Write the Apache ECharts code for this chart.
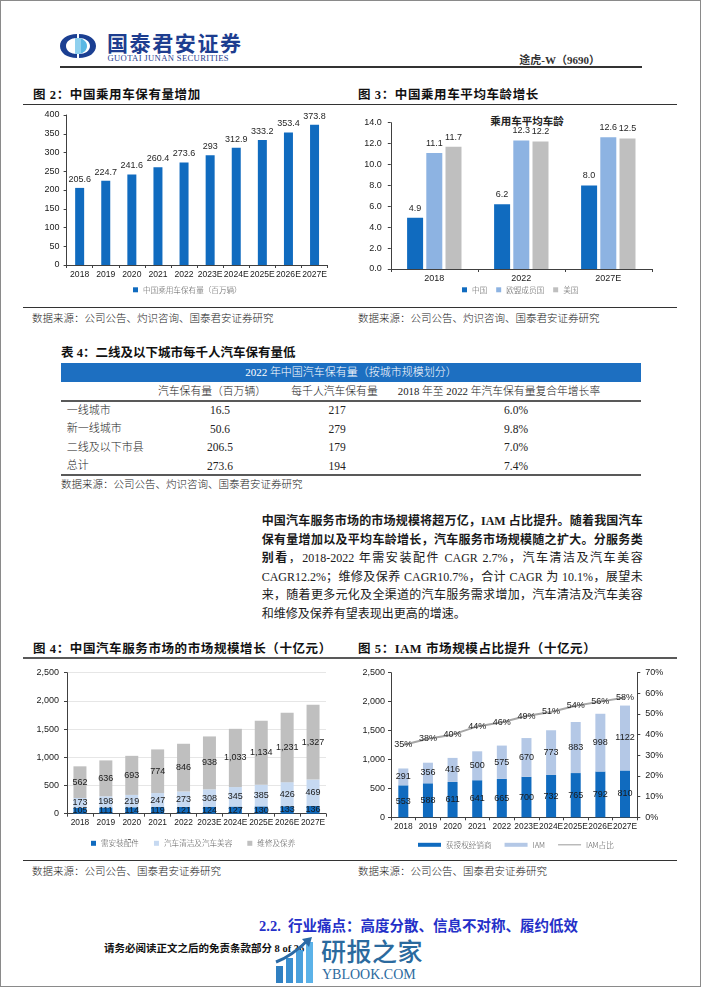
<!DOCTYPE html>
<html><head><meta charset="utf-8">
<script src="https://cdn.jsdelivr.net/npm/echarts@6/dist/echarts.min.js"></script>
<style>
body{margin:0;background:#fff;}
#page{position:relative;width:702px;height:991px;overflow:hidden;background:#fff;font-family:'Liberation Serif','Noto Sans CJK SC',serif;color:#1a1a1a;}
.t{position:absolute;white-space:nowrap;}
.ln{position:absolute;}
#chart{position:absolute;left:0;top:0;width:702px;height:991px;z-index:2;}
.pl{position:absolute;left:261.7px;width:381px;height:18px;line-height:18px;font-size:12px;text-align:justify;text-align-last:justify;font-family:'Liberation Serif','Noto Sans CJK SC',serif;}
</style></head>
<body>
<div id="page">
  <div id="html"></div>
  <div id="chart"></div>
</div>
<script>
// ---------- data ----------
const fig2Years = ['2018','2019','2020','2021','2022','2023E','2024E','2025E','2026E','2027E'];
const fig2Stock = [205.6,224.7,241.6,260.4,273.6,293,312.9,333.2,353.4,373.8];
const fig3Years = ['2018','2022','2027E'];
const fig3China = [4.9,6.2,8.0];
const fig3EU = [11.1,12.3,12.6];
const fig3US = [11.7,12.2,12.5];
const fig4Years = ['2018','2019','2020','2021','2022','2023E','2024E','2025E','2026E','2027E'];
const fig4Parts = [105,111,114,119,121,124,127,130,133,136];
const fig4Clean = [173,198,219,247,273,308,345,385,426,469];
const fig4Repair = [562,636,693,774,846,938,1033,1134,1231,1327];
const fig5Years = ['2018','2019','2020','2021','2022','2023E','2024E','2025E','2026E','2027E'];
const fig5Dealer = [553,588,611,641,665,700,732,765,792,810];
const fig5IAM = [291,356,416,500,575,670,773,883,998,1122];
const fig5Share = [35,38,40,44,46,49,51,54,56,58];
const tableRows = ['一线城市','新一线城市','二线及以下市县','总计'];
const tableStock = ['16.5','50.6','206.5','273.6'];
const tablePerK = ['217','279','179','194'];
const tableCagr = ['6.0%','9.8%','7.0%','7.4%'];
const tableHead = ['汽车保有量（百万辆）','每千人汽车保有量','2018 年至 2022 年汽车保有量复合年增长率'];

// ---------- static page (html text) ----------
const H = [];
function txt(s, x, cy, st, align){
  const fs = (st.match(/font-size:([\d.]+)px/)||[0,12])[1];
  const h = Math.round(fs*1.4);
  let pos = 'left:'+x+'px;';
  if(align==='center') pos = 'left:'+(x-200)+'px;width:400px;text-align:center;';
  if(align==='right') pos = 'left:'+(x-400)+'px;width:400px;text-align:right;';
  H.push('<div class="t" style="'+pos+'top:'+(cy-h/2)+'px;height:'+h+'px;line-height:'+h+'px;'+st+'">'+s+'</div>');
}
function line(x,y,w,h,c){ H.push('<div class="ln" style="left:'+x+'px;top:'+y+'px;width:'+w+'px;height:'+h+'px;background:'+c+'"></div>'); }

// page frame
H.push('<div class="ln" style="left:0;top:0;width:699px;height:985px;border:1.5px solid #8a8a8a;"></div>');
// logo
H.push('<svg style="position:absolute;left:60px;top:34px" width="36" height="24" viewBox="0 0 36 24">'+
 '<path d="M17 0 C7 0 0 5 0 12 C0 19 7 24 17 24 L17 20 C11 20 6 17 6 12 C6 7 11 4 17 4 Z" fill="#1b3f92"/>'+
 '<path d="M19 0 C29 0 36 5 36 12 C36 19 29 24 19 24 L19 20 C25 20 30 17 30 12 C30 7 25 4 19 4 Z" fill="#1b3f92"/>'+
 '<path d="M17 4 C12 5 9 8 9 12 C9 16 12 19 17 20 Z" fill="#ffffff"/>'+
 '<path d="M19 4 C24 5 27 8 27 12 C27 16 24 19 19 20 Z" fill="#5ab7e3"/>'+
 '<rect x="15" y="4" width="6" height="16" fill="#8fd0ee"/></svg>');
txt('国泰君安证券',107,44,'font-size:21px;font-weight:700;letter-spacing:1.6px;color:#1d3d8f;font-family:"Noto Sans CJK SC",sans-serif;');
txt('GUOTAI JUNAN SECURITIES',107.5,58,'font-size:8.6px;color:#1d3d8f;letter-spacing:0.35px;font-family:"Liberation Sans",sans-serif;');
txt('途虎-W（9690）',600,60,'font-size:11px;font-weight:700;color:#333;','right');
line(60,66,582,1.5,'#333');

// fig 2/3 titles
const titleSt = 'font-size:12.5px;font-weight:700;color:#111;letter-spacing:0.6px;';
txt('图 2：中国乘用车保有量增加',33,95,titleSt);
txt('图 3：中国乘用车平均车龄增长',358,95,titleSt);
line(23,103.5,654,1.2,'#333');
txt('乘用车平均车龄',527,121,'font-size:10.5px;font-weight:700;color:#222;font-family:"Noto Sans CJK SC",sans-serif;','center');
line(23,307,654,1.2,'#333');
const srcSt = 'font-size:10.5px;color:#222;font-weight:300;';
txt('数据来源：公司公告、灼识咨询、国泰君安证券研究',32,318,srcSt);
txt('数据来源：公司公告、灼识咨询、国泰君安证券研究',358,318,srcSt);

// table
txt('表 4：二线及以下城市每千人汽车保有量低',61,353,'font-size:12.5px;font-weight:700;color:#111;');
line(61,363,580,19,'#1d6fc1');
txt('2022 年中国汽车保有量（按城市规模划分）',351,372.5,'font-size:11px;color:#fff;font-weight:300;','center');
const colX = [220,337,516];
const headX = [212,334.5,499];
tableHead.forEach((h,i)=>txt(h,headX[i],391,'font-size:10.8px;color:#222;font-weight:300;','center'));
line(61,399.7,580,2,'#595959');
const rowY = [410,428.5,447,465.5];
tableRows.forEach((r,i)=>{
  txt(r,66.7,rowY[i],'font-size:11px;color:#222;font-weight:300;');
  txt(tableStock[i],colX[0],rowY[i],'font-size:11.5px;color:#222;','center');
  txt(tablePerK[i],colX[1],rowY[i],'font-size:11.5px;color:#222;','center');
  txt(tableCagr[i],colX[2],rowY[i],'font-size:11.5px;color:#222;','center');
});
line(61,473.5,580,2,'#595959');
txt('数据来源：公司公告、灼识咨询、国泰君安证券研究',61,484,srcSt);

// paragraph
const pY = [521,539.5,558,576.5,595,613.5];
const pLines = [
 '<b>中国汽车服务市场的市场规模将超万亿，IAM 占比提升。随着我国汽车</b>',
 '<b>保有量增加以及平均车龄增长，汽车服务市场规模随之扩大。分服务类</b>',
 '<b>别看</b>，2018-2022 年需安装配件 CAGR 2.7%，汽车清洁及汽车美容',
 'CAGR12.2%；维修及保养 CAGR10.7%，合计 CAGR 为 10.1%，展望未',
 '来，随着更多元化及全渠道的汽车服务需求增加，汽车清洁及汽车美容',
 '和维修及保养有望表现出更高的增速。'
];
pLines.forEach((s,i)=>{
  const last = i===pLines.length-1 ? 'text-align-last:left;' : '';
  H.push('<div class="pl" style="top:'+(pY[i]-9)+'px;'+last+'">'+s+'</div>');
});

// fig 4/5 titles
txt('图 4：中国汽车服务市场的市场规模增长（十亿元）',33,649,titleSt);
txt('图 5：IAM 市场规模占比提升（十亿元）',358,649,titleSt);
line(23,656.7,654,2,'#595959');
line(23,859.5,654,1.2,'#333');
txt('数据来源：公司公告、国泰君安证券研究',32,871,srcSt);
txt('数据来源：公司公告、国泰君安证券研究',358,871,srcSt);

// section heading & footer
txt('2.2.&nbsp; 行业痛点：高度分散、信息不对称、履约低效',259,926,'font-size:14.5px;font-weight:700;color:#2430c8;');
txt('请务必阅读正文之后的免责条款部分 8 of 36',104,948,'font-size:10.5px;font-weight:700;color:#111;');
// watermark
H.push('<div style="position:absolute;left:274px;top:936px;width:42px;height:48px;z-index:3;">'+
 '<div style="position:absolute;left:2px;top:30px;width:7px;height:17px;background:#2f7fc1"></div>'+
 '<div style="position:absolute;left:12px;top:22px;width:7px;height:25px;background:#3a8fd0"></div>'+
 '<div style="position:absolute;left:22px;top:14px;width:7px;height:33px;background:#4aa0dc"></div>'+
 '<div style="position:absolute;left:32px;top:6px;width:7px;height:41px;background:#5bb2e8"></div>'+
 '<svg style="position:absolute;left:0;top:0" width="42" height="30"><path d="M2 26 Q18 20 34 4" stroke="#2a6aa6" stroke-width="3" fill="none"/><path d="M28 3 L38 1 L35 11 Z" fill="#2a6aa6"/></svg></div>');
txt('研报之家',321,952,'font-size:25px;font-weight:500;color:#2b6a9e;letter-spacing:0.5px;font-family:"Noto Sans CJK SC",sans-serif;z-index:3;background:rgba(255,255,255,0);');
txt('YBLOOK.COM',322,975,'font-size:14px;color:#2b6a9e;font-family:"Liberation Sans",sans-serif;letter-spacing:0.2px;z-index:3;');

document.getElementById('html').innerHTML = H.join('');

// ---------- charts ----------
const FF = "'Liberation Sans','Noto Sans CJK SC',sans-serif";
const AX = '#404040';
const dark = '#106bbf', light4 = '#c6d9f1', gray = '#bfbfbf', eu = '#8db3e2', light5 = '#b4c8e6';
function catAxis(gi, data, fs, margin){
  return {type:'category', gridIndex:gi, data:data,
    axisLine:{lineStyle:{color:AX,width:1}},
    axisTick:{show:true,length:3,lineStyle:{color:AX}},
    axisLabel:{interval:0,fontSize:fs,color:'#1a1a1a',margin:margin,fontFamily:FF},
    splitLine:{show:false}};
}
function valAxis(gi, min, max, interval, margin, fmt, extra){
  return Object.assign({type:'value', gridIndex:gi, min:min, max:max, interval:interval,
    axisLine:{show:true,lineStyle:{color:AX,width:1}},
    axisTick:{show:true,length:3,lineStyle:{color:AX}},
    axisLabel:{fontSize:9,color:'#1a1a1a',margin:margin,formatter:fmt,fontFamily:FF},
    splitLine:{show:false}}, extra||{});
}
const comma = v => Number(v).toLocaleString('en-US');
const legendText = {fontSize:7.6,color:'#595959',fontFamily:"'Noto Sans CJK SC',sans-serif",fontWeight:300};

const option = {
  animation:false,
  textStyle:{fontFamily:FF},
  grid:[
    {left:66.6, top:115, width:261, height:150},
    {left:390.8, top:122.7, width:261, height:146.3},
    {left:67, top:672.7, width:259, height:141},
    {left:391, top:672.7, width:246.3, height:144.6}
  ],
  xAxis:[
    catAxis(0, fig2Years, 8.6, 5),
    catAxis(1, fig3Years, 9, 5.5),
    catAxis(2, fig4Years, 8.4, 5),
    catAxis(3, fig5Years, 8.4, 5)
  ],
  yAxis:[
    valAxis(0,0,400,50,7),
    valAxis(1,0,14,2,9, v=>v.toFixed(1)),
    valAxis(2,0,2500,500,8, comma, {splitLine:{show:true,lineStyle:{color:'#e6e6e6'}}}),
    valAxis(3,0,2500,500,6),
    valAxis(3,0,70,10,8, v=>v+'%', {position:'right'})
  ],
  legend:[
    {data:['中国乘用车保有量（百万辆）'], left:133, top:286, padding:0, icon:'rect', itemWidth:5, itemHeight:5, itemGap:10, textStyle:legendText},
    {data:['中国','欧盟成员国','美国'], left:462, top:286, padding:0, icon:'rect', itemWidth:5, itemHeight:5, itemGap:9, textStyle:legendText},
    {data:['需安装配件','汽车清洁及汽车美容','维修及保养'], left:91, top:839.5, padding:0, icon:'rect', itemWidth:5, itemHeight:5, itemGap:15, textStyle:legendText},
    {data:[{name:'获授权经销商',icon:'rect'},{name:'IAM',icon:'rect'},{name:'IAM占比',icon:'path://M0,0H40V2H0Z'}], left:418, top:841, padding:0, itemWidth:23, itemHeight:4, itemGap:13, textStyle:legendText}
  ],
  series:[
    {name:'中国乘用车保有量（百万辆）', type:'bar', xAxisIndex:0, yAxisIndex:0, data:fig2Stock, barWidth:9,
      itemStyle:{color:dark}, label:{show:true, position:'top', distance:4, fontSize:9, color:'#262626'}},
    {name:'中国', type:'bar', xAxisIndex:1, yAxisIndex:1, data:fig3China, barWidth:16, barGap:'20%',
      itemStyle:{color:dark}, label:{show:true, position:'top', distance:5, fontSize:9, color:'#262626', formatter:p=>p.value.toFixed(1)}},
    {name:'欧盟成员国', type:'bar', xAxisIndex:1, yAxisIndex:1, data:fig3EU, barWidth:16, barGap:'20%',
      itemStyle:{color:eu}, label:{show:true, position:'top', distance:5, fontSize:9, color:'#262626', formatter:p=>p.value.toFixed(1)}},
    {name:'美国', type:'bar', xAxisIndex:1, yAxisIndex:1, data:fig3US, barWidth:16, barGap:'20%',
      itemStyle:{color:gray}, label:{show:true, position:'top', distance:5, fontSize:9, color:'#262626', formatter:p=>p.value.toFixed(1)}},
    {name:'需安装配件', type:'bar', stack:'f4', xAxisIndex:2, yAxisIndex:2, data:fig4Parts, barWidth:13,
      itemStyle:{color:dark}, label:{show:true, position:'inside', fontSize:9, color:'#1a1a1a', formatter:p=>comma(p.value)}},
    {name:'汽车清洁及汽车美容', type:'bar', stack:'f4', xAxisIndex:2, yAxisIndex:2, data:fig4Clean, barWidth:13,
      itemStyle:{color:light4}, label:{show:true, position:'inside', fontSize:9, color:'#1a1a1a', formatter:p=>comma(p.value)}},
    {name:'维修及保养', type:'bar', stack:'f4', xAxisIndex:2, yAxisIndex:2, data:fig4Repair, barWidth:13,
      itemStyle:{color:gray}, label:{show:true, position:'inside', fontSize:9, color:'#1a1a1a', formatter:p=>comma(p.value)}},
    {name:'获授权经销商', type:'bar', stack:'f5', xAxisIndex:3, yAxisIndex:3, data:fig5Dealer, barWidth:10,
      itemStyle:{color:dark}, label:{show:true, position:'inside', fontSize:9, color:'#1a1a1a'}},
    {name:'IAM', type:'bar', stack:'f5', xAxisIndex:3, yAxisIndex:3, data:fig5IAM, barWidth:10,
      itemStyle:{color:light5}, label:{show:true, position:'inside', fontSize:9, color:'#1a1a1a'}},
    {name:'IAM占比', type:'line', xAxisIndex:3, yAxisIndex:4, data:fig5Share, symbol:'circle', symbolSize:0, showSymbol:true,
      lineStyle:{color:'#a6a6a6', width:2}, itemStyle:{color:'#a6a6a6'},
      label:{show:true, position:'inside', fontSize:9, color:'#262626', formatter:p=>p.value+'%'}}
  ]
};
const chart = echarts.init(document.getElementById('chart'), null, {renderer:'canvas'});
chart.setOption(option);
</script>
</body></html>
